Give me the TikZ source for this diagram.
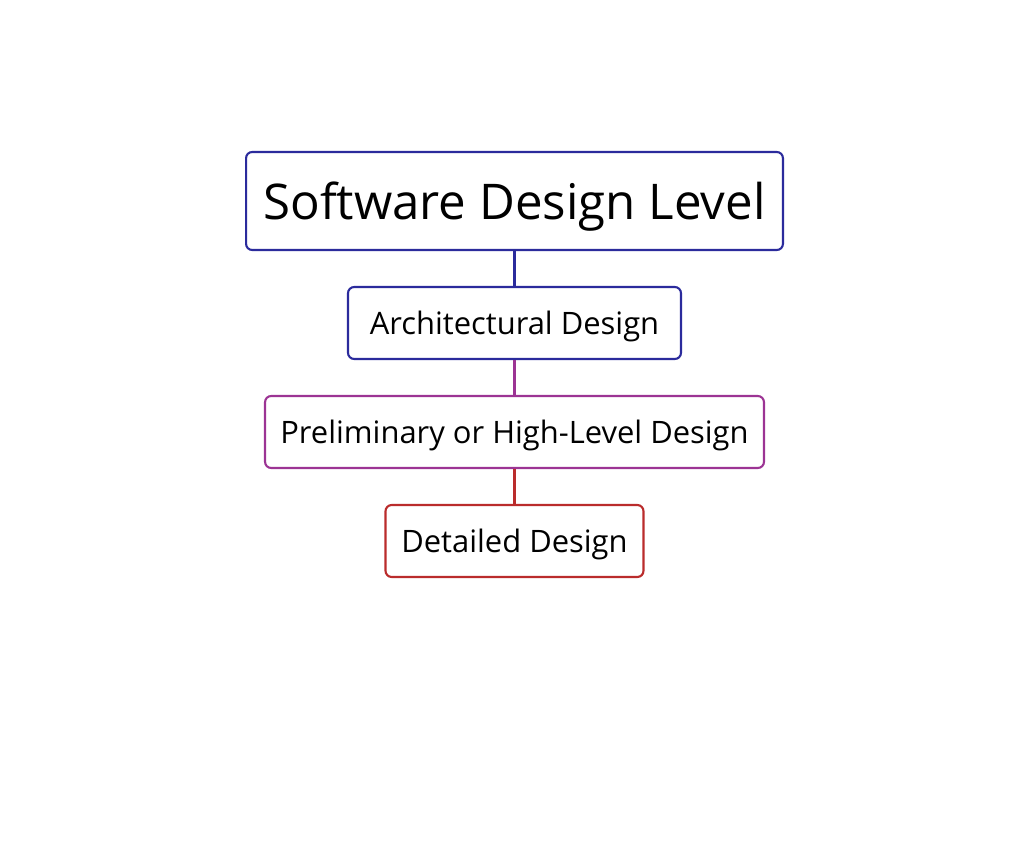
\documentclass[tikz,border=0pt]{standalone}
\usepackage{fontspec}
\setmainfont{Open Sans}
\definecolor{lvlblue}{HTML}{2B2B9C}
\definecolor{lvlpurple}{HTML}{9C3494}
\definecolor{lvlred}{HTML}{BA2C2C}

\begin{document}
\begin{tikzpicture}[x=0.02cm, y=-0.02cm,
  level/.style={draw, line width=1.2pt, rounded corners=3.5pt, fill=white,
                minimum height=1.44cm, inner sep=0pt, text height=13.2pt, text depth=0pt,
                font=\fontsize{17.6}{20}\selectfont},
  link/.style={line width=1.2pt}]
 \useasboundingbox (0, 0) rectangle (1024, 842);

 \node[level, draw=lvlblue, minimum width=10.74cm, minimum height=1.96cm,
       text height=21pt, font=\fontsize{28}{32}\selectfont] (sdl) at (514.5, 201) {Software Design Level};
 \node[level, draw=lvlblue,   minimum width=6.66cm] (arch) at (514.5, 323) {Architectural Design};
 \node[level, draw=lvlpurple, minimum width=9.98cm] (prel) at (514.5, 432) {Preliminary or High-Level Design};
 \node[level, draw=lvlred,    minimum width=5.16cm] (det)  at (514.5, 541) {Detailed Design};

 \draw[link, lvlblue]   (sdl)  -- (arch);
 \draw[link, lvlpurple] (arch) -- (prel);
 \draw[link, lvlred]    (prel) -- (det);
\end{tikzpicture}
\end{document}
